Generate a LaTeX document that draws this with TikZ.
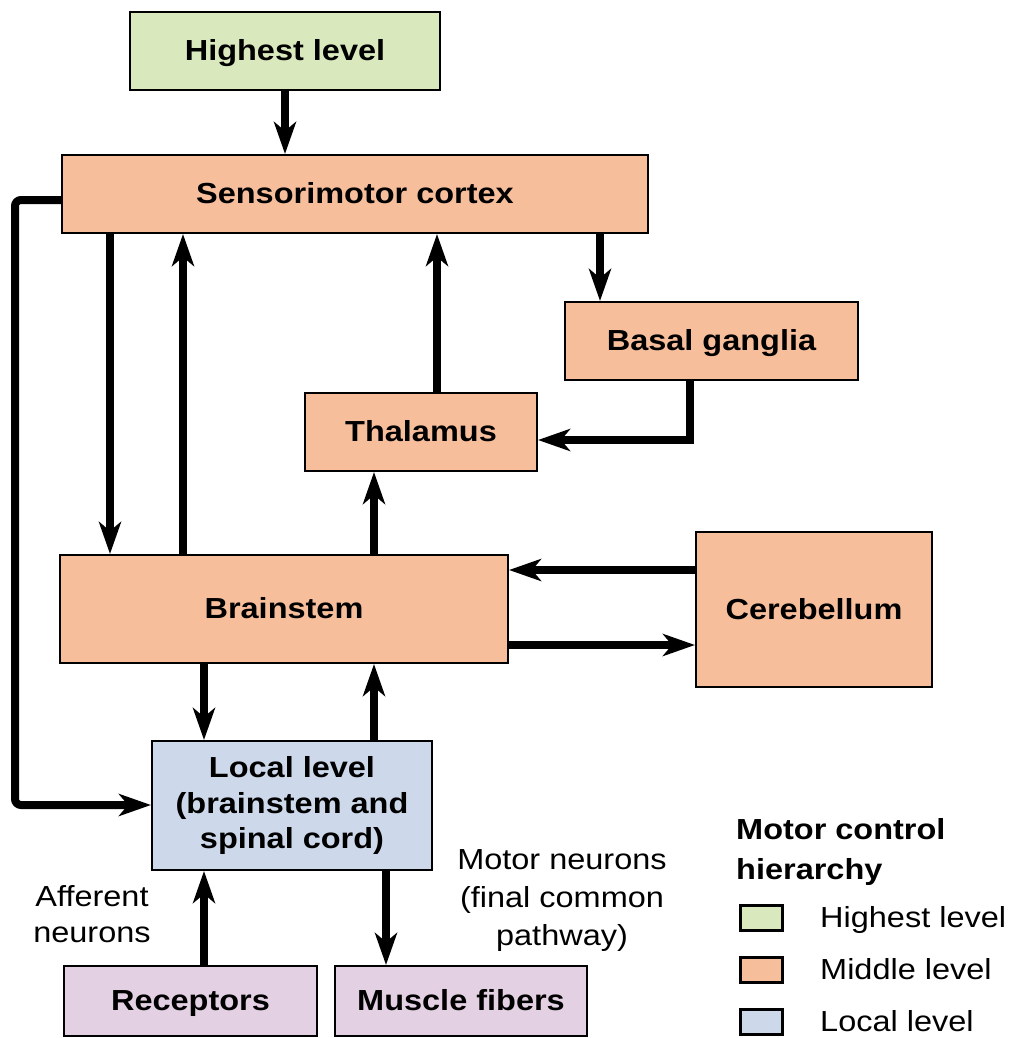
\documentclass[tikz,border=0pt]{standalone}
\usepackage{fontspec}
\setmainfont[FakeStretch=1.12]{Liberation Sans}
\usetikzlibrary{arrows.meta}
\definecolor{hicol}{HTML}{DAE8BE}
\definecolor{midcol}{HTML}{F7BE9C}
\definecolor{loccol}{HTML}{CDD9EB}
\definecolor{reccol}{HTML}{E4D0E3}
\tikzset{
  box/.style={draw=black, line width=2pt, inner sep=0pt, font=\fontsize{29}{36}\selectfont\bfseries, align=center},
  one/.style={text height=23pt, text depth=4pt},
  conn/.style={line width=8pt, -{Stealth[length=32pt, width=22pt, inset=9pt]}},
  lbl/.style={font=\fontsize{29}{38}\selectfont, align=center, inner sep=0pt},
  legsq/.style={draw=black, line width=2.5pt, minimum width=42pt, minimum height=25pt, inner sep=0pt},
}
\begin{document}
\begin{tikzpicture}[x=1pt, y=-1pt]
\useasboundingbox (0,0) rectangle (1010,1038);
% nodes
\node[box, one, fill=hicol, minimum width=310pt, minimum height=78pt] (hl) at (285,51) {Highest level};
\node[box, one, fill=midcol, minimum width=586pt, minimum height=78pt] (sm) at (355,194) {Sensorimotor cortex};
\node[box, one, fill=midcol, minimum width=293pt, minimum height=78pt] (bg) at (711.5,341) {Basal ganglia};
\node[box, one, fill=midcol, minimum width=232pt, minimum height=78pt] (th) at (421,432) {Thalamus};
\node[box, one, fill=midcol, minimum width=448pt, minimum height=108pt] (bs) at (284,609) {Brainstem};
\node[box, one, fill=midcol, minimum width=236pt, minimum height=155pt] (cb) at (814,609.5) {Cerebellum};
\node[box, fill=loccol, minimum width=280pt, minimum height=129pt, font=\fontsize{29}{35.5}\selectfont\bfseries] (ll) at (292,805.5) {Local level\\(brainstem and\\spinal cord)};
\node[box, one, fill=reccol, minimum width=253pt, minimum height=70pt] (rc) at (190.5,1001) {Receptors};
\node[box, one, fill=reccol, minimum width=252pt, minimum height=70pt] (mf) at (461,1001) {Muscle fibers};
% labels
\node[lbl, font=\fontsize{29}{36}\selectfont] (aff) at (92,914) {Afferent\\neurons};
\node[lbl] (mn) at (562,901) {Motor neurons\\(final common\\pathway)};
% legend
\node[lbl, anchor=west, align=left, font=\fontsize{29}{40}\selectfont\bfseries] (lt) at (736,852) {Motor control\\hierarchy};
\node[legsq, fill=hicol] (lg1) at (761.5,918) {};
\node[legsq, fill=midcol] (lg2) at (761.5,970) {};
\node[legsq, fill=loccol] (lg3) at (761.5,1022) {};
\node[lbl, one, anchor=west] (lgt1) at (820,918) {Highest level};
\node[lbl, one, anchor=west] (lgt2) at (820,970) {Middle level};
\node[lbl, one, anchor=west] (lgt3) at (820,1022) {Local level};
% helper coordinates
\coordinate (x110) at (110,0);
\coordinate (x183) at (183,0);
\coordinate (x204) at (204,0);
\coordinate (x374) at (374,0);
\coordinate (x386) at (386,0);
\coordinate (x437) at (437,0);
\coordinate (x600) at (600,0);
\coordinate (x690) at (690,0);
\coordinate (y440) at (0,440);
\coordinate (y570) at (0,570);
\coordinate (y645) at (0,645);
\coordinate (lp1) at (15,200);
\coordinate (lp2) at (15,805);
% connectors
\draw[conn] (hl.south) -- (sm.north -| hl.south);
\draw[conn] (sm.south -| x110) -- (bs.north -| x110);
\draw[conn] (bs.north -| x183) -- (sm.south -| x183);
\draw[conn] (th.north -| x437) -- (sm.south -| x437);
\draw[conn] (sm.south -| x600) -- (bg.north -| x600);
\draw[conn] (bg.south -| x690) |- (th.east |- y440);
\draw[conn] (bs.north -| x374) -- (th.south -| x374);
\draw[conn] (cb.west |- y570) -- (bs.east |- y570);
\draw[conn] (bs.east |- y645) -- (cb.west |- y645);
\draw[conn] (bs.south -| x204) -- (ll.north -| x204);
\draw[conn] (ll.north -| x374) -- (bs.south -| x374);
\draw[conn] (rc.north -| x204) -- (ll.south -| x204);
\draw[conn] (ll.south -| x386) -- (mf.north -| x386);
\draw[conn, rounded corners=6pt] (sm.west |- lp1) -- (lp1) -- (lp2) -- (ll.west |- lp2);
\end{tikzpicture}
\end{document}
